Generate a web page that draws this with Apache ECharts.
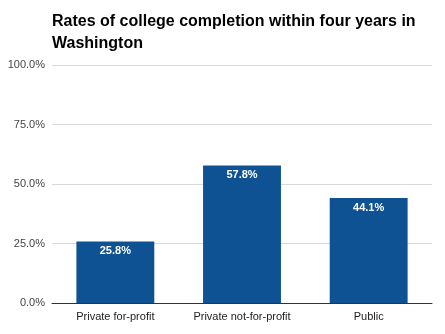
<!DOCTYPE html>
<html><head><meta charset="utf-8">
<script src="https://cdn.jsdelivr.net/npm/echarts@6/dist/echarts.min.js"></script>
<style>html,body{margin:0;padding:0;background:#fff}#c{width:445px;height:334px}</style>
</head><body><div id="c"></div>
<script>
const categories = ["Private for-profit", "Private not-for-profit", "Public"];
const values = [25.8, 57.8, 44.1];
const titleText = "Rates of college completion within four years in\nWashington";

const chart = echarts.init(document.getElementById('c'), null, {renderer: 'canvas'});
chart.setOption({
  animation: false,
  backgroundColor: '#fff',
  title: {
    text: titleText, left: 52, top: 11, padding: 0,
    textStyle: {fontFamily: 'Liberation Sans', fontWeight: 'bold', fontSize: 16, color: '#000', lineHeight: 22}
  },
  grid: {left: 52, right: 13, top: 65, bottom: 31},
  xAxis: {
    type: 'category', data: categories,
    axisLine: {lineStyle: {color: '#333', width: 1}},
    axisTick: {show: false},
    axisLabel: {color: '#222', fontFamily: 'Liberation Sans', fontSize: 11, margin: 8}
  },
  yAxis: {
    type: 'value', min: 0, max: 100, interval: 25,
    axisLine: {show: false}, axisTick: {show: false},
    splitLine: {lineStyle: {color: '#d9d9d9', width: 1}},
    axisLabel: {color: '#444', fontFamily: 'Liberation Sans', fontSize: 11, margin: 7,
      formatter: v => v.toFixed(1) + '%'}
  },
  series: [{
    type: 'bar', data: values, barWidth: '61.5%',
    itemStyle: {color: '#0e5294'},
    label: {show: true, position: 'insideTop', distance: 4, color: '#fff', fontWeight: 'bold',
      fontFamily: 'Liberation Sans', fontSize: 11, formatter: p => p.value.toFixed(1) + '%'}
  }]
});
</script></body></html>
